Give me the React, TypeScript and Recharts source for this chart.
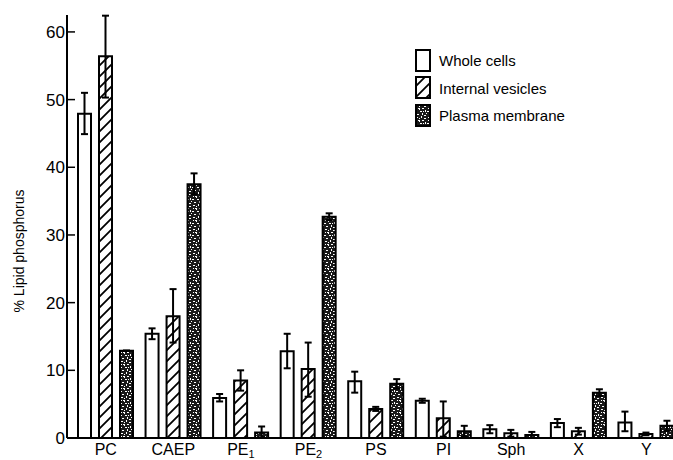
import React from 'react';
import { BarChart, Bar, XAxis, YAxis, ErrorBar, Legend } from 'recharts';

const categoryBase = ['PC', 'CAEP', 'PE', 'PE', 'PS', 'PI', 'Sph', 'X', 'Y'];
const categorySub = ['', '', '1', '2', '', '', '', '', ''];

const wholeCells = [47.9, 15.4, 5.9, 12.8, 8.4, 5.5, 1.3, 2.2, 2.3];
const wholeErr = [[3.0, 3.1], [0.8, 0.8], [0.5, 0.6], [2.5, 2.6], [1.7, 1.4], [0.3, 0.3], [0.6, 0.6], [0.6, 0.6], [1.3, 1.6]];
const internalVesicles = [56.4, 18.0, 8.5, 10.2, 4.3, 2.9, 0.7, 1.0, 0.6];
const internalErr = [[6.1, 6.0], [3.9, 4.0], [1.5, 1.5], [4.1, 3.9], [0.3, 0.3], [2.7, 2.5], [0.5, 0.5], [0.5, 0.5], [0.2, 0.2]];
const plasmaMembrane = [12.9, 37.5, 0.8, 32.7, 8.0, 1.0, 0.45, 6.7, 1.8];
const plasmaErr = [[0, 0], [1.5, 1.6], [0.7, 0.9], [0.5, 0.5], [0.7, 0.7], [0.8, 0.8], [0.45, 0.45], [0.5, 0.5], [0.75, 0.75]];

const yTicks = [0, 10, 20, 30, 40, 50, 60];
const seriesNames = ['Whole cells', 'Internal vesicles', 'Plasma membrane'];
const yLabel = '% Lipid phosphorus';

const data = categoryBase.map((b, i) => ({
  name: b + categorySub[i],
  whole: wholeCells[i],
  wholeErr: wholeErr[i],
  internal: internalVesicles[i],
  internalErr: internalErr[i],
  plasma: plasmaMembrane[i],
  plasmaErr: plasmaErr[i],
}));

const FONT = '"Liberation Sans", Arial, Helvetica, sans-serif';

const Patterns = ({ prefix }: { prefix: string }) => (
  <defs>
    <pattern id={prefix + 'hatch'} width="11" height="11" patternUnits="userSpaceOnUse">
      <rect width="11" height="11" fill="#fff" />
      <path d="M-1,12 L12,-1 M-3,3 L3,-3 M8,14 L14,8" stroke="#000" strokeWidth="1.8" />
    </pattern>
    <pattern id={prefix + 'stip'} width="12" height="12" patternUnits="userSpaceOnUse">
      <rect width="12" height="12" fill="#1a1a1a" />
      <path
        d="M1 1h2v1h-2z M6 0h1v2h-1z M9 2h2v1h-2z M3 4h2v2h-1v-1h-1z M7 4h2v1h-2z M0 7h2v1h-2z M5 7h2v1h-2z M10 6h1v2h-1z M2 10h2v1h-2z M7 9h1v2h-1z M9 11h2v1h-2z M4 2h1v1h-1z M11 9h1v1h-1z M8 7h1v1h-1z M1 4h1v1h-1z"
        fill="#fff"
      />
    </pattern>
  </defs>
);

const XTick = (props: any) => {
  const { x, y, payload } = props;
  const i = categoryBase.findIndex((b, k) => b + categorySub[k] === payload.value);
  return (
    <text x={x} y={y + 17} textAnchor="middle" fontFamily={FONT} fontSize={16} fill="#000">
      <tspan fill="#000">{categoryBase[i]}</tspan>
      {categorySub[i] ? (
        <tspan dy={3} fontSize={11} fill="#000">{categorySub[i]}</tspan>
      ) : null}
    </text>
  );
};

const YLabel = () => (
  <text
    x={19}
    y={251}
    transform="rotate(-90 19 251)"
    textAnchor="middle"
    dominantBaseline="central"
    fontFamily={FONT}
    fontSize={14}
    fill="#000"
  >
    {yLabel}
  </text>
);

const fills = ['#fff', 'url(#lg-hatch)', 'url(#lg-stip)'];

const LegendContent = () => (
  <div style={{ fontFamily: FONT, fontSize: 15, color: '#000' }}>
    {seriesNames.map((n, i) => (
      <div key={n} style={{ display: 'flex', alignItems: 'center', height: 27.5 }}>
        <svg width={17} height={24} style={{ display: 'block' }}>
          {i === 0 ? <Patterns prefix="lg-" /> : null}
          <rect x={1} y={1} width={14} height={21} fill={fills[i]} stroke="#000" strokeWidth={2} />
        </svg>
        <span style={{ marginLeft: 7, whiteSpace: 'nowrap' }}>{n}</span>
      </div>
    ))}
  </div>
);

export default function App() {
  return (
    <div style={{ position: 'absolute', left: 0, top: 0, width: 673, height: 460, overflow: 'hidden', background: '#fff' }}>
      <BarChart
        width={690}
        height={460}
        data={data}
        margin={{ top: 15, right: 10, left: 0, bottom: 0 }}
        barSize={13}
        barGap={8}
      >
        <Patterns prefix="ch-" />
        <XAxis
          dataKey="name"
          height={22}
          padding={{ left: 5, right: 0 }}
          axisLine={{ stroke: '#000', strokeWidth: 2 }}
          tickLine={false}
          tickSize={0}
          tickMargin={0}
          interval={0}
          tick={<XTick />}
        />
        <YAxis
          width={67}
          domain={[0, 62.5]}
          ticks={yTicks}
          allowDataOverflow
          axisLine={{ stroke: '#000', strokeWidth: 2 }}
          tickLine={{ stroke: '#000', strokeWidth: 1.5 }}
          tickSize={-8}
          tickMargin={10}
          tick={{ fontFamily: FONT, fontSize: 17, fill: '#000' }}
          label={<YLabel />}
        />
        <Legend
          layout="vertical"
          align="center"
          verticalAlign="middle"
          content={<LegendContent />}
          wrapperStyle={{ left: 415, top: 47, width: 200 }}
        />
        <Bar dataKey="whole" name={seriesNames[0]} fill="#fff" stroke="#000" strokeWidth={2} isAnimationActive={false}>
          <ErrorBar dataKey="wholeErr" width={3.5} stroke="#000" strokeWidth={2} />
        </Bar>
        <Bar dataKey="internal" name={seriesNames[1]} fill="url(#ch-hatch)" stroke="#000" strokeWidth={2} isAnimationActive={false}>
          <ErrorBar dataKey="internalErr" width={3.5} stroke="#000" strokeWidth={2} />
        </Bar>
        <Bar dataKey="plasma" name={seriesNames[2]} fill="url(#ch-stip)" stroke="#000" strokeWidth={2} isAnimationActive={false}>
          <ErrorBar dataKey="plasmaErr" width={3.5} stroke="#000" strokeWidth={2} />
        </Bar>
      </BarChart>
    </div>
  );
}
